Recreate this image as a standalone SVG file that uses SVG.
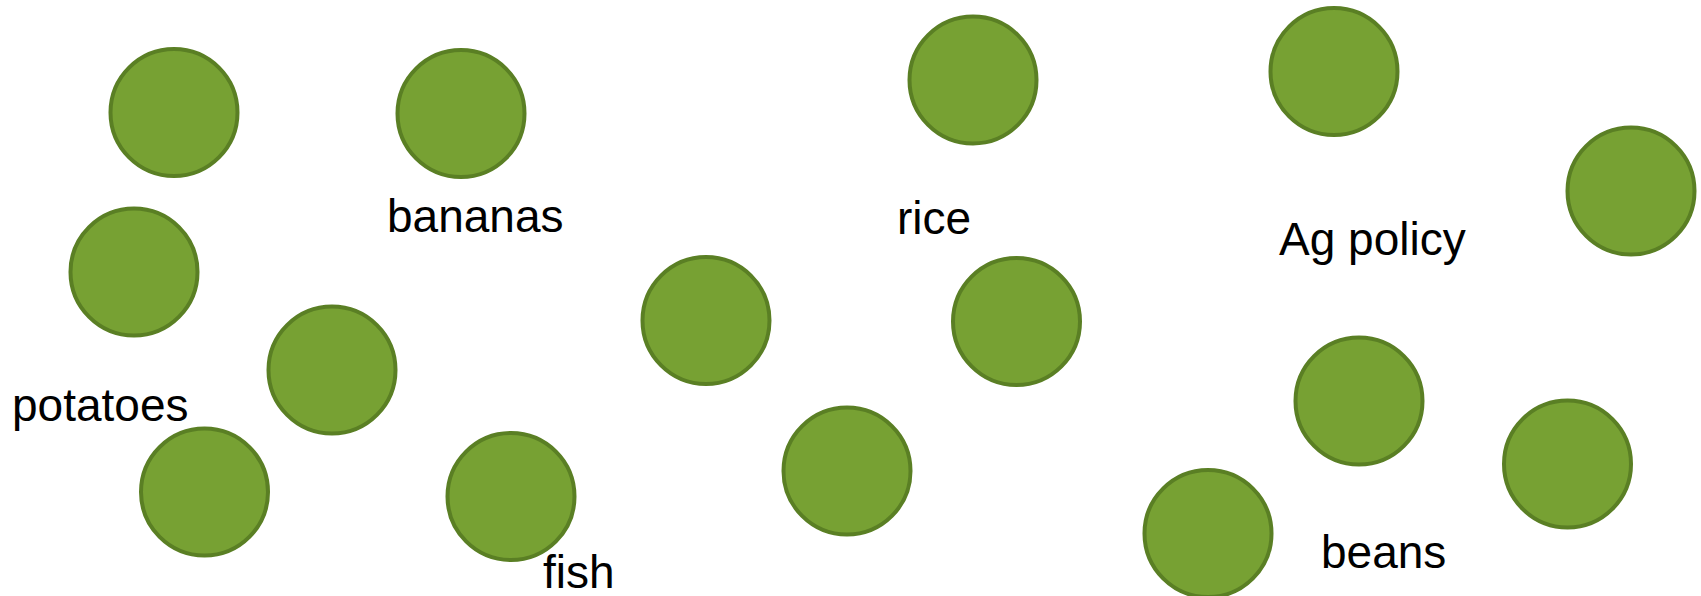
<svg xmlns="http://www.w3.org/2000/svg" width="1701" height="596" viewBox="0 0 1701 596">
<style>
.n{fill:#77a133;stroke:#5a7f24;stroke-width:4}
.t{font-family:"Liberation Sans",Arial,sans-serif;font-size:46px;fill:#000}
</style>
<rect width="1701" height="596" fill="#fff"/>
<g id="connectors"></g>
<g id="n1"><circle class="n" cx="174" cy="112.5" r="63.5"/></g>
<g id="n2"><circle class="n" cx="461" cy="113.5" r="63.5"/></g>
<g id="n3"><circle class="n" cx="973" cy="80" r="63.5"/></g>
<g id="n4"><circle class="n" cx="1334" cy="71.5" r="63.5"/></g>
<g id="n5"><circle class="n" cx="1631" cy="191" r="63.5"/></g>
<g id="n6"><circle class="n" cx="134" cy="272" r="63.5"/></g>
<g id="n7"><circle class="n" cx="332" cy="370" r="63.5"/></g>
<g id="n8"><circle class="n" cx="706" cy="320.5" r="63.5"/></g>
<g id="n9"><circle class="n" cx="1016.5" cy="321.5" r="63.5"/></g>
<g id="n10"><circle class="n" cx="204.5" cy="492" r="63.5"/></g>
<g id="n11"><circle class="n" cx="511" cy="496.5" r="63.5"/></g>
<g id="n12"><circle class="n" cx="847" cy="471" r="63.5"/></g>
<g id="n13"><circle class="n" cx="1359" cy="401" r="63.5"/></g>
<g id="n14"><circle class="n" cx="1567.5" cy="464" r="63.5"/></g>
<g id="n15"><circle class="n" cx="1208" cy="533.5" r="63.5"/></g>
<g id="labels">
<text class="t" x="387" y="232">bananas</text>
<text class="t" x="12" y="421">potatoes</text>
<text class="t" x="543" y="588">fish</text>
<text class="t" x="897" y="234">rice</text>
<text class="t" x="1279" y="255">Ag policy</text>
<text class="t" x="1321" y="568">beans</text>
</g>
</svg>
